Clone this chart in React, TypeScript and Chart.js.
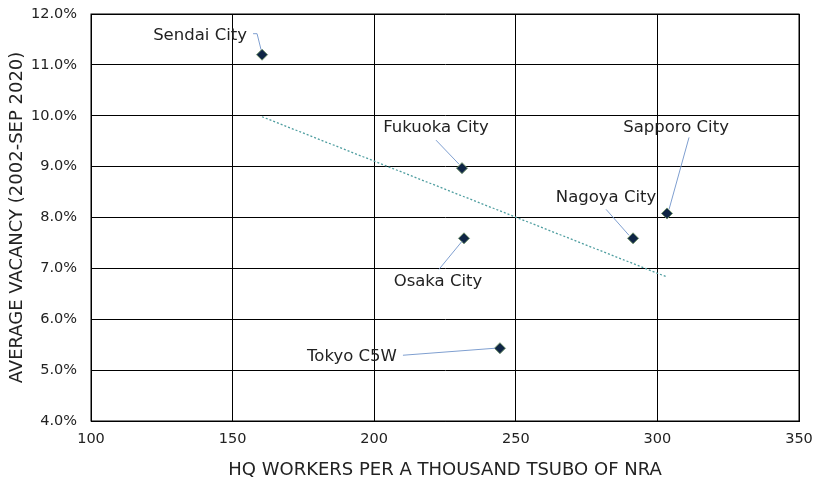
import React, { useEffect, useRef } from "react";
import { Chart, registerables } from "chart.js";

Chart.register(...registerables);

const cityNames = ["Sendai City", "Fukuoka City", "Osaka City", "Tokyo C5W", "Nagoya City", "Sapporo City"];
const hqWorkers = [160.4, 231.0, 231.7, 244.4, 291.4, 303.4];
const avgVacancy = [11.2, 8.97, 7.59, 5.43, 7.59, 8.08];
const trendX = [160.4, 303.4];
const trendY = [9.98, 6.83];
const xTicks = [100, 150, 200, 250, 300, 350];
const yTicks = [4, 5, 6, 7, 8, 9, 10, 11, 12];

// label placement relative to point (pixels): text center, leader path
const labelLayout = [
  { dx: -62, dy: -19, path: [[-9, -21], [-5, -21], [-1, -5]] },
  { dx: -26, dy: -40, path: [[-26, -28], [-3, -4]] },
  { dx: -26, dy: 43, path: [[-25, 31], [-2, 3]] },
  { dx: -148, dy: 8, path: [[-97, 7], [-5, 0]] },
  { dx: -27, dy: -41, path: [[-27, -29], [-4, -3]] },
  { dx: 9, dy: -86, path: [[22, -76], [2, -4]] },
];

const FONT = "'DejaVu Sans', sans-serif";

const labelPlugin = {
  id: "cityLabels",
  afterDatasetsDraw(chart: any) {
    const { ctx, scales } = chart;
    ctx.save();
    cityNames.forEach((name, i) => {
      const px = scales.x.getPixelForValue(hqWorkers[i]);
      const py = scales.y.getPixelForValue(avgVacancy[i]);
      const lay = labelLayout[i];
      ctx.strokeStyle = "#7f9fd0";
      ctx.lineWidth = 1;
      ctx.beginPath();
      lay.path.forEach((p, k) => {
        if (k === 0) ctx.moveTo(px + p[0], py + p[1]);
        else ctx.lineTo(px + p[0], py + p[1]);
      });
      ctx.stroke();
      ctx.fillStyle = "#222";
      ctx.font = "16.5px " + FONT;
      ctx.textAlign = "center";
      ctx.textBaseline = "middle";
      ctx.fillText(name, px + lay.dx, py + lay.dy);
    });
    ctx.restore();
  },
};

export default function App() {
  const ref = useRef<HTMLCanvasElement>(null);
  useEffect(() => {
    document.body.style.margin = "0";
    const chart = new Chart(ref.current!, {
      type: "scatter",
      data: {
        datasets: [
          {
            label: "Trend",
            data: trendX.map((x, i) => ({ x, y: trendY[i] })),
            showLine: true,
            borderColor: "#4f9ea0",
            borderWidth: 1.3,
            borderDash: [2, 2],
            pointRadius: 0,
            fill: false,
            order: 2,
          },
          {
            label: "Cities",
            data: hqWorkers.map((x, i) => ({ x, y: avgVacancy[i] })),
            pointStyle: "rectRot",
            pointRadius: 5.5,
            backgroundColor: "#0f2545",
            borderColor: "#6f8f6a",
            borderWidth: 1,
            order: 1,
          },
        ],
      },
      options: {
        animation: false,
        responsive: false,
        layout: { padding: { top: 14, right: 17, left: 4, bottom: 0 } },
        plugins: { legend: { display: false }, tooltip: { enabled: false } },
        scales: {
          x: {
            type: "linear",
            min: 100,
            max: 350,
            afterBuildTicks: (axis: any) => {
              axis.ticks = xTicks.map((v) => ({ value: v }));
            },
            afterFit: (axis: any) => {
              axis.height = 66;
              axis.paddingLeft = 0;
              axis.paddingRight = 0;
            },
            grid: { color: "#000", lineWidth: 1, drawTicks: false },
            border: { color: "#000", width: 1 },
            ticks: { color: "#222", font: { family: FONT, size: 14.5 }, padding: 10 },
            title: {
              display: true,
              text: "HQ WORKERS PER A THOUSAND TSUBO OF NRA",
              color: "#222",
              font: { family: FONT, size: 18 },
              padding: { top: 4, bottom: 6 },
            },
          },
          y: {
            type: "linear",
            min: 4,
            max: 12,
            afterBuildTicks: (axis: any) => {
              axis.ticks = yTicks.map((v) => ({ value: v }));
            },
            afterFit: (axis: any) => {
              axis.width = 87;
              axis.paddingTop = 0;
              axis.paddingBottom = 0;
            },
            grid: { color: "#000", lineWidth: 1, drawTicks: false },
            border: { color: "#000", width: 1 },
            ticks: {
              color: "#222",
              font: { family: FONT, size: 14.5 },
              padding: 14,
              callback: (v: any) => Number(v).toFixed(1) + "%",
            },
            title: {
              display: true,
              text: "AVERAGE VACANCY (2002-SEP 2020)",
              color: "#222",
              font: { family: FONT, size: 18 },
              padding: { top: 3, bottom: 4 },
            },
          },
        },
      },
      plugins: [
        labelPlugin,
        {
          id: "frame",
          afterDraw(c: any) {
            const { ctx, chartArea: a } = c;
            ctx.save();
            ctx.strokeStyle = "#000";
            ctx.lineWidth = 1;
            ctx.strokeRect(a.left, a.top, a.right - a.left, a.bottom - a.top);
            ctx.restore();
          },
        },
      ],
    } as any);
    return () => chart.destroy();
  }, []);
  return (
    <div style={{ position: "absolute", left: 0, top: 0, width: 816, height: 487 }}>
      <canvas ref={ref} width={816} height={487} />
    </div>
  );
}
